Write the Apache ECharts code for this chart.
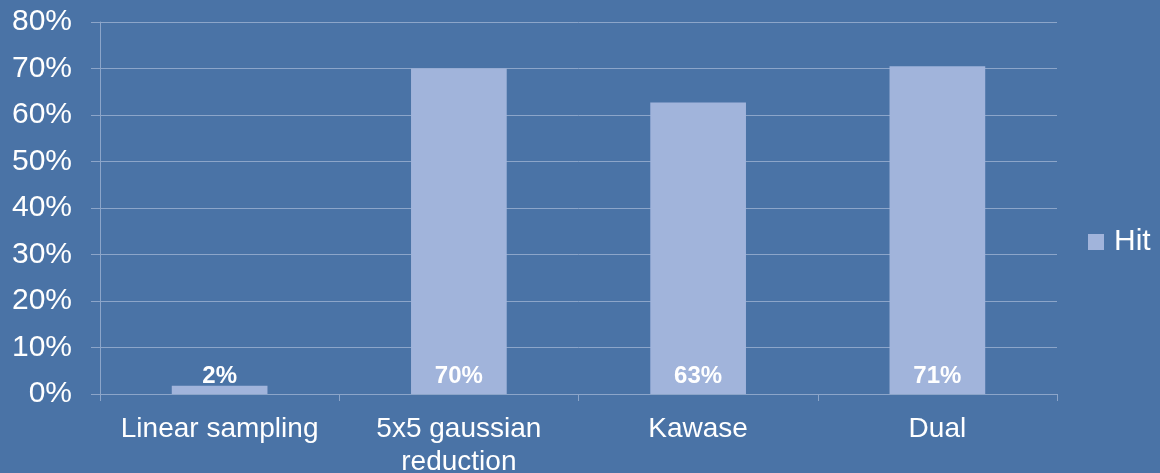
<!DOCTYPE html>
<html>
<head>
<meta charset="utf-8">
<script src="https://cdn.jsdelivr.net/npm/echarts@6/dist/echarts.min.js"></script>
<style>
html,body{margin:0;padding:0;background:#4A73A6;overflow:hidden;}
#chart{width:1160px;height:473px;}
</style>
</head>
<body>
<div id="chart"></div>
<script>
const categories = ['Linear sampling', '5x5 gaussian\nreduction', 'Kawase', 'Dual'];
const hitValues = [1.8, 70.0, 62.7, 70.5];
const hitLabels = ['2%', '70%', '63%', '71%'];
const yTicks = [0, 10, 20, 30, 40, 50, 60, 70, 80];

const FONT = '"Liberation Sans", Arial, sans-serif';
const gridColor = '#8CA5C9';

const chart = echarts.init(document.getElementById('chart'));
chart.setOption({
  backgroundColor: '#4A73A6',
  animation: false,
  grid: { left: 100, right: 103, top: 22, bottom: 79, containLabel: false, outerBoundsMode: 'none' },
  legend: {
    data: ['Hit'],
    left: 1083, top: 222,
    icon: 'rect', itemWidth: 16, itemHeight: 16, itemGap: 10,
    textStyle: { color: '#ffffff', fontSize: 30, fontFamily: FONT, padding: [0,0,0,5] }
  },
  xAxis: {
    type: 'category',
    data: categories,
    axisLine: { show: true, lineStyle: { color: gridColor, width: 1 } },
    axisTick: { show: true, alignWithLabel: false, length: 7, lineStyle: { color: gridColor } },
    axisLabel: { color: '#ffffff', fontSize: 28, fontFamily: FONT, margin: 19, lineHeight: 33, interval: 0 }
  },
  yAxis: {
    type: 'value',
    min: 0, max: 80, interval: 10,
    axisLine: { show: true, lineStyle: { color: gridColor, width: 1 } },
    axisTick: { show: true, length: 9, lineStyle: { color: gridColor } },
    splitLine: { show: true, lineStyle: { color: gridColor, width: 1 } },
    axisLabel: {
      color: '#ffffff', fontSize: 30, fontFamily: FONT, margin: 28,
      formatter: v => yTicks.includes(v) ? v + '%' : ''
    }
  },
  series: [{
    name: 'Hit',
    type: 'bar',
    data: hitValues,
    barWidth: '40%',
    itemStyle: { color: '#A1B4DB' },
    label: {
      show: true,
      position: 'insideBottom',
      distance: 6,
      color: '#ffffff',
      fontSize: 24,
      fontWeight: 'bold',
      fontFamily: FONT,
      formatter: p => hitLabels[p.dataIndex]
    }
  }]
});
</script>
</body>
</html>
